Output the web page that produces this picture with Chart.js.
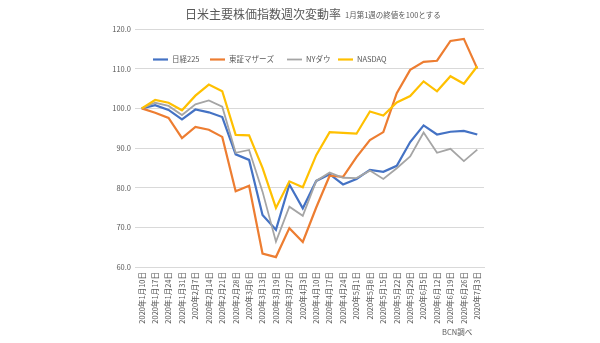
<!DOCTYPE html>
<html>
<head>
<meta charset="utf-8">
<script src="https://cdn.jsdelivr.net/npm/chart.js@4"></script>
<style>
  html, body { margin: 0; padding: 0; background: #fff; }
  #wrap { width: 600px; height: 343px; }
</style>
</head>
<body>
<div id="wrap"><canvas id="weeklyChart" width="600" height="343"></canvas></div>
<script>
// weekly closes, first week of January = 100
var weeks = ["2020年1月10日","2020年1月17日","2020年1月24日","2020年1月31日","2020年2月7日","2020年2月14日",
  "2020年2月21日","2020年2月28日","2020年3月6日","2020年3月13日","2020年3月19日","2020年3月27日",
  "2020年4月3日","2020年4月10日","2020年4月17日","2020年4月24日","2020年5月1日","2020年5月8日",
  "2020年5月15日","2020年5月22日","2020年5月29日","2020年6月5日","2020年6月12日","2020年6月19日",
  "2020年6月26日","2020年7月3日"];

var nikkei  = [100, 100.8, 99.6, 97.2, 99.7, 99.0, 97.8, 88.4, 87.0, 73.1, 69.4, 80.8, 74.8, 81.7, 83.4, 80.8,
  82.2, 84.5, 84.0, 85.5, 91.5, 95.7, 93.4, 94.1, 94.3, 93.4];
var mothers = [100, 98.9, 97.6, 92.5, 95.3, 94.6, 92.8, 79.1, 80.5, 63.4, 62.5, 69.8, 66.3, 75.0, 83.0, 82.7,
  87.7, 92.0, 94.0, 103.8, 109.7, 111.7, 112.0, 117.0, 117.5, 110.0];
var dow     = [100, 101.4, 100.6, 98.3, 101.0, 102.0, 100.4, 88.8, 89.5, 79.0, 66.4, 75.2, 72.9, 81.7, 83.8, 82.5,
  82.4, 84.3, 82.2, 84.9, 87.9, 93.9, 88.8, 89.8, 86.7, 89.6];
var nasdaq  = [100, 102.1, 101.4, 99.5, 103.2, 106.0, 104.3, 93.3, 93.2, 85.0, 74.9, 81.6, 80.1, 88.2, 94.0, 93.8,
  93.6, 99.2, 98.2, 101.5, 103.1, 106.8, 104.3, 108.1, 106.2, 110.6];

var yTicks = [60, 70, 80, 90, 100, 110, 120];

var seriesNames  = ["日経225", "東証マザーズ", "NYダウ", "NASDAQ"];
var seriesColors = ["#4472C4", "#ED7D31", "#A5A5A5", "#FFC000"];

var FONT = "'Noto Sans CJK JP', 'Noto Sans', sans-serif";
var TEXT = "#595959";

// title, subtitle, legend and source note
var decorations = {
  id: "decorations",
  afterDraw: function (chart) {
    var ctx = chart.ctx;
    ctx.save();
    ctx.fillStyle = TEXT;
    ctx.textBaseline = "middle";
    ctx.textAlign = "left";

    ctx.font = "12px " + FONT;
    ctx.fillText("日米主要株価指数週次変動率", 185, 14);
    ctx.font = "7.5px " + FONT;
    ctx.fillText("1月第1週の終値を100とする", 345, 15);

    var legendX = [153, 210, 287, 338];
    chart.data.datasets.forEach(function (ds, i) {
      var x = legendX[i], y = 59.5;
      ctx.strokeStyle = ds.borderColor;
      ctx.lineWidth = ds.borderWidth;
      ctx.beginPath();
      ctx.moveTo(x, y);
      ctx.lineTo(x + 15, y);
      ctx.stroke();
      ctx.fillStyle = TEXT;
      ctx.font = "7.5px " + FONT;
      ctx.fillText(ds.label, x + 19, y);
    });

    ctx.font = "7.5px " + FONT;
    ctx.fillText("BCN調べ", 442, 332);
    ctx.restore();
  }
};

var ctx = document.getElementById("weeklyChart").getContext("2d");
var seriesData = [nikkei, mothers, dow, nasdaq];

var chart = new Chart(ctx, {
  type: "line",
  data: {
    labels: weeks,
    datasets: seriesData.map(function (d, i) {
      return {
        label: seriesNames[i],
        data: d,
        borderColor: seriesColors[i],
        backgroundColor: seriesColors[i],
        borderWidth: i === 2 ? 1.8 : 2.2,
        pointRadius: 0,
        tension: 0,
        fill: false,
        order: 4 - i
      };
    })
  },
  options: {
    responsive: false,
    animation: false,
    layout: { padding: { left: 110, right: 116, top: 29, bottom: 16 } },
    plugins: {
      legend: { display: false },
      title: { display: false },
      tooltip: { enabled: false }
    },
    scales: {
      x: {
        offset: true,
        grid: { display: false, drawTicks: false },
        border: { display: true, color: "#D9D9D9" },
        ticks: {
          autoSkip: false,
          minRotation: 90,
          maxRotation: 90,
          padding: 5,
          color: TEXT,
          font: { family: FONT, size: 7.5 }
        },
        afterFit: function (s) { s.height = 60; }
      },
      y: {
        min: yTicks[0],
        max: yTicks[yTicks.length - 1],
        afterBuildTicks: function (s) {
          s.ticks = yTicks.map(function (v) { return { value: v }; });
        },
        grid: { color: "#D9D9D9", lineWidth: 1, drawTicks: false },
        border: { display: false },
        ticks: {
          padding: 4,
          color: TEXT,
          font: { family: FONT, size: 7.5 },
          callback: function (v) { return Number(v).toFixed(1); }
        },
        afterFit: function (s) { s.width = 25; }
      }
    }
  },
  plugins: [decorations]
});
</script>
</body>
</html>
